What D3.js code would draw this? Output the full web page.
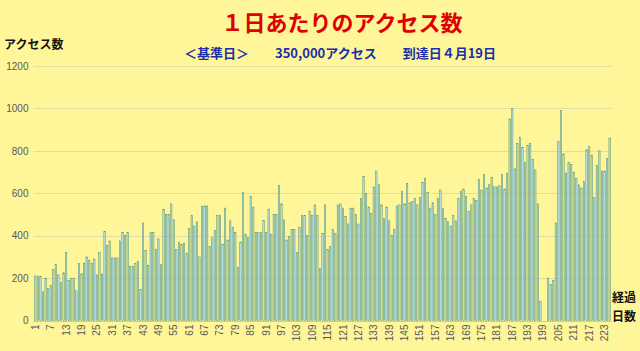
<!DOCTYPE html>
<html lang="ja">
<head>
<meta charset="UTF-8">
<title>1日あたりのアクセス数</title>
<script src="https://d3js.org/d3.v7.min.js"></script>
<style>
    body { margin: 0; background: #fff69a; }
    .tick text { font-family: "Liberation Sans", Arial, sans-serif; font-size: 10px; fill: #595959; }
    .jp { font-family: "Noto Sans CJK JP", sans-serif; font-weight: bold; }
</style>
</head>
<body>
<svg width="640" height="351"></svg>
<script>
    // days 1..225 (経過日数)
    const days = d3.range(1, 226);

    // アクセス数 per day
    const access = [
        210,210,208,135,200,150,165,240,265,215,
        180,225,320,190,200,200,140,270,220,270,
        300,285,270,290,215,320,220,420,355,375,
        295,295,295,375,415,400,415,255,255,270,
        280,145,460,330,260,415,415,335,385,265,
        525,500,500,550,475,335,370,360,365,315,
        435,495,445,465,
        300,540,540,540,350,390,425,495,495,360,
        530,380,470,440,415,250,370,605,405,390,
        585,535,415,415,415,472,415,525,405,500,
        500,637,550,475,380,395,430,430,320,440,
        495,495,400,515,495,545,495,245,410,545,
        335,350,430,410,545,550,530,490,455,530,
        530,500,455,575,680,600,535,505,630,705,
        640,545,480,535,470,400,430,540,545,610,550,645,
        555,560,575,545,580,650,670,605,530,555,
        500,575,615,530,480,465,445,495,470,575,
        610,620,585,515,545,575,565,665,615,690,
        625,640,675,630,630,635,690,620,695,950,
        1000,715,835,865,815,745,825,835,760,710,
        550,90,0,0,200,170,190,460,845,990,
        785,695,745,735,700,670,640,625,655,805,
        820,780,580,730,800,705,705,765,860
    ];

    const yTicks = [0, 200, 400, 600, 800, 1000, 1200];
    const xTicks = days.filter(d => (d - 1) % 6 === 0);

    const svg = d3.select("svg");

    const plotLeft = 33.5, plotRight = 611.5, plotTop = 66, plotBottom = 320.5;

    const x = d3.scaleBand()
        .domain(days)
        .range([plotLeft, plotRight])
        .padding(0.45);

    const y = d3.scaleLinear()
        .domain([0, 1200])
        .range([plotBottom, plotTop]);

    // gridlines
    svg.append("g")
        .selectAll("line")
        .data(yTicks)
        .enter().append("line")
        .attr("x1", plotLeft)
        .attr("x2", plotRight)
        .attr("y1", d => Math.round(y(d)) + 0.5)
        .attr("y2", d => Math.round(y(d)) + 0.5)
        .attr("stroke", d => d === 0 ? "#cfcb9a" : "#e2dda8")
        .attr("stroke-width", 1);

    // y axis labels
    const yAxis = svg.append("g")
        .attr("transform", `translate(${plotLeft - 5},0)`)
        .call(d3.axisLeft(y).tickValues(yTicks).tickFormat(d3.format("d")).tickSize(0).tickPadding(0));
    yAxis.select(".domain").remove();

    // bars
    svg.append("g")
        .selectAll("rect")
        .data(days)
        .enter().append("rect")
        .attr("x", d => x(d))
        .attr("y", d => y(access[d - 1]))
        .attr("width", x.bandwidth())
        .attr("height", d => y(0) - y(access[d - 1]))
        .attr("fill", "#bfe3ea")
        .attr("stroke", "#4f8f6c")
        .attr("stroke-width", 0.5);

    // x axis labels (rotated)
    const xAxis = svg.append("g")
        .attr("transform", `translate(0,${plotBottom + 3})`)
        .call(d3.axisBottom(x).tickValues(xTicks).tickSize(0).tickPadding(0));
    xAxis.select(".domain").remove();
    xAxis.selectAll("text")
        .attr("transform", "rotate(-90)")
        .attr("text-anchor", "end")
        .attr("x", -1)
        .attr("y", 0)
        .attr("dy", "0.35em");

    // titles
    svg.append("text")
        .attr("class", "jp")
        .attr("x", 342)
        .attr("y", 31)
        .attr("text-anchor", "middle")
        .attr("fill", "#e00000")
        .attr("font-size", 22)
        .text("１日あたりのアクセス数");

    svg.append("text")
        .attr("class", "jp")
        .attr("x", 340)
        .attr("y", 58)
        .attr("text-anchor", "middle")
        .attr("fill", "#1c2ea8")
        .attr("font-size", 13)
        .attr("xml:space", "preserve")
        .text("＜基準日＞　　350,000アクセス　　到達日４月19日");

    svg.append("text")
        .attr("class", "jp")
        .attr("x", 4)
        .attr("y", 49)
        .attr("fill", "#111")
        .attr("font-size", 12)
        .text("アクセス数");

    svg.append("text")
        .attr("class", "jp")
        .attr("x", 612)
        .attr("y", 302)
        .attr("fill", "#111")
        .attr("font-size", 12)
        .text("経過");

    svg.append("text")
        .attr("class", "jp")
        .attr("x", 612)
        .attr("y", 321)
        .attr("fill", "#111")
        .attr("font-size", 12)
        .text("日数");
</script>
</body>
</html>
